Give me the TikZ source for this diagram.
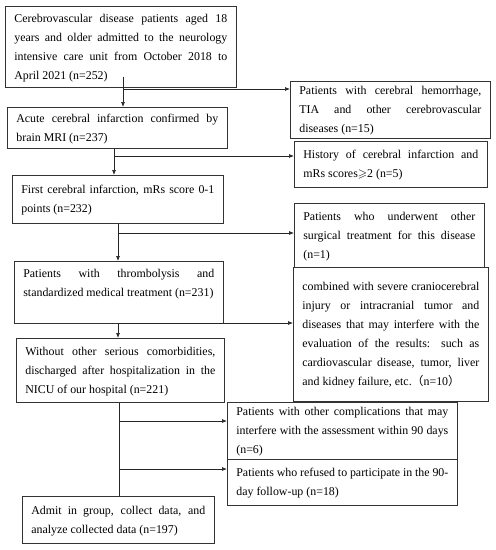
\documentclass[tikz,border=0pt]{standalone}
\usepackage{fontspec}
\setmainfont{Liberation Serif}
\newfontfamily\cjkfont{Noto Sans CJK SC}
\usepackage{amssymb}
\usetikzlibrary{arrows.meta, positioning}
\tikzset{flowbox/.style={draw=black!80, line width=0.7pt, anchor=north west, inner xsep=9pt, inner ysep=0pt, align=justify, font=\fontsize{11.9}{19}\selectfont, execute at begin node=\strut, execute at end node=\strut}}

\begin{document}
\begin{tikzpicture}[
        x=1pt, y=-1pt,
        flowarrow/.style={-{Latex[length=5pt, width=4pt]}, draw=black!85, line width=0.7pt},
        flowline/.style={draw=black!85, line width=0.7pt}
    ]
        \useasboundingbox (0,0) rectangle (496,550);
        % Main column
        \node[flowbox, text width=213pt, minimum height=81pt] (admission) at (5,6) {Cerebrovascular disease patients aged 18\linebreak years and older admitted to the neurology\linebreak intensive care unit from October 2018 to\linebreak April 2021 (n=252)};
        \node[flowbox, text width=202pt, minimum height=41pt] (mri) at (7,107) {Acute cerebral infarction confirmed by\linebreak brain MRI (n=237)};
        \node[flowbox, text width=193pt, minimum height=48pt] (firstinfarct) at (12,175) {First cerebral infarction, mRs score 0-1\linebreak points (n=232)};
        \node[flowbox, text width=191pt, minimum height=62pt] (thrombolysis) at (14,261) {Patients with thrombolysis and\linebreak standardized medical treatment (n=231)\par\mbox{}};
        \node[flowbox, text width=190pt, minimum height=64pt] (nicu) at (16,338) {Without other serious comorbidities,\linebreak discharged after hospitalization in the\linebreak NICU of our hospital (n=221)};
        \node[flowbox, text width=174pt, minimum height=47pt] (enrolled) at (22,496) {Admit in group, collect data, and\linebreak analyze collected data (n=197)};
        % Exclusions
        \node[flowbox, text width=182pt, minimum height=49pt] (hemorrhage) at (290,81) {Patients with cerebral hemorrhage,\linebreak TIA and other cerebrovascular\linebreak diseases (n=15)};
        \node[flowbox, text width=175pt, minimum height=46pt] (history) at (294,141) {History of cerebral infarction and\linebreak mRs scores$\geqslant$2 (n=5)};
        \node[flowbox, text width=172pt, minimum height=64pt] (surgery) at (294,203) {Patients who underwent other\linebreak surgical treatment for this disease\linebreak (n=1)};
        \node[flowbox, text width=177pt, minimum height=134pt] (comorbid) at (293,267) {combined with severe craniocerebral\linebreak injury or intracranial tumor and\linebreak diseases that may interfere with the\linebreak evaluation of the results: such as\linebreak cardiovascular disease, tumor, liver\linebreak and kidney failure, etc.{\cjkfont（}n=10{\cjkfont）}};
        \node[flowbox, text width=212pt, minimum height=57pt] (complication) at (227,402) {Patients with other complications that may\linebreak interfere with the assessment within 90 days\linebreak (n=6)};
        \node[flowbox, text width=212pt, minimum height=46pt] (refused) at (227,459) {Patients who refused to participate in the 90-\linebreak day follow-up (n=18)};
        % Split points
        \coordinate (split1) at (123,89);
        \coordinate (split2) at (114,156);
        \coordinate (split3) at (118,233);
        \coordinate (split4) at (118,323);
        \coordinate (split5) at (119,421);
        \coordinate (split6) at (119,469);
        % Connectors
        \draw[flowarrow] ([yshift=11pt]split1 |- admission.south) -- (split1 |- mri.north);
        \draw[flowarrow] (split1) -- (split1 -| hemorrhage.west);
        \draw[flowarrow] (split2 |- mri.south) -- (split2 |- firstinfarct.north);
        \draw[flowarrow] (split2) -- (split2 -| history.west);
        \draw[flowarrow] (split3 |- firstinfarct.south) -- (split3 |- thrombolysis.north);
        \draw[flowarrow] (split3) -- (split3 -| surgery.west);
        \draw[flowarrow] (split4 |- thrombolysis.south) -- (split4 |- nicu.north);
        \draw[flowarrow] (split4) -- (split4 -| comorbid.west);
        \draw[flowline] (split5 |- nicu.south) -- (split5 |- enrolled.north);
        \draw[flowarrow] (split5) -- (split5 -| complication.west);
        \draw[flowarrow] (split6) -- (split6 -| refused.west);
    \end{tikzpicture}
\end{document}
